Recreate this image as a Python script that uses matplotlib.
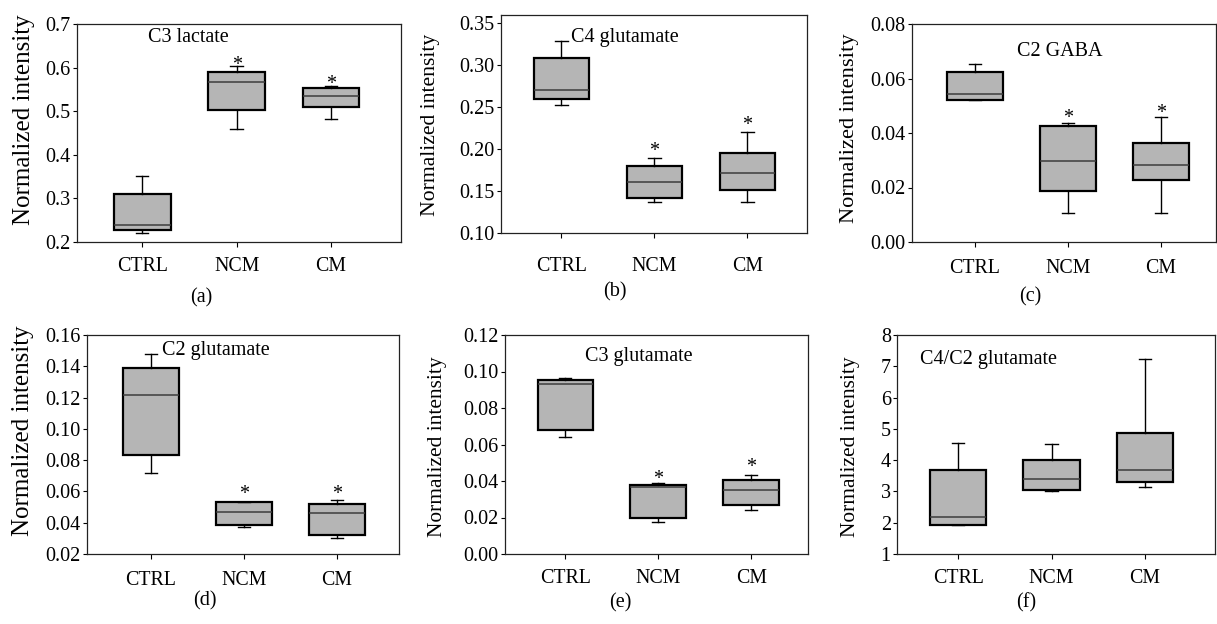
import numpy as np
import matplotlib.pyplot as plt
from matplotlib.ticker import FormatStrFormatter

plt.rcParams['font.family'] = ['Liberation Serif', 'DejaVu Serif']

groups = ['CTRL', 'NCM', 'CM']

# per group: lower whisker, Q1, median, Q3, upper whisker
c3_lactate = [[0.220, 0.228, 0.238, 0.310, 0.352],
              [0.460, 0.502, 0.567, 0.589, 0.604],
              [0.482, 0.509, 0.535, 0.554, 0.558]]
c4_glutamate = [[0.253, 0.260, 0.271, 0.309, 0.329],
                [0.137, 0.142, 0.161, 0.180, 0.190],
                [0.137, 0.151, 0.172, 0.195, 0.220]]
c2_gaba = [[0.0520, 0.0522, 0.0543, 0.0625, 0.0655],
           [0.0107, 0.0187, 0.0298, 0.0425, 0.0437],
           [0.0107, 0.0229, 0.0281, 0.0365, 0.0459]]
c2_glutamate = [[0.0716, 0.0835, 0.1219, 0.1391, 0.1476],
                [0.0370, 0.0385, 0.0471, 0.0535, 0.0535],
                [0.0300, 0.0321, 0.0464, 0.0522, 0.0545]]
c3_glutamate = [[0.0641, 0.0678, 0.0932, 0.0953, 0.0966],
                [0.0177, 0.0199, 0.0367, 0.0380, 0.0387],
                [0.0239, 0.0268, 0.0351, 0.0407, 0.0435]]
c4c2_glutamate = [[1.94, 1.94, 2.17, 3.69, 4.56],
                  [3.01, 3.05, 3.41, 4.01, 4.52],
                  [3.13, 3.30, 3.67, 4.88, 7.23]]

# asterisk heights (NCM, CM); None = no mark
stars_a = [None, 0.621, 0.577]
stars_b = [None, 0.2047, 0.2366]
stars_c = [None, 0.0478, 0.0494]
stars_d = [None, 0.0624, 0.0620]
stars_e = [None, 0.0442, 0.0511]
stars_f = [None, None, None]

yticks_a = [0.2, 0.3, 0.4, 0.5, 0.6, 0.7]
yticks_b = [0.10, 0.15, 0.20, 0.25, 0.30, 0.35]
yticks_c = [0.00, 0.02, 0.04, 0.06, 0.08]
yticks_d = [0.02, 0.04, 0.06, 0.08, 0.10, 0.12, 0.14, 0.16]
yticks_e = [0.00, 0.02, 0.04, 0.06, 0.08, 0.10, 0.12]
yticks_f = [1, 2, 3, 4, 5, 6, 7, 8]

W, H = 1217, 624

panels = [
    # data, stars, yticks, fmt, ylim, xlim, title, title pos, axes px (l, r, t, b), panel tag, tag px, ylabel size/pos, xpad
    dict(d=c3_lactate, s=stars_a, yt=yticks_a, fmt='%.1f', yl=(0.2, 0.7), xl=(0.31, 3.74),
         name='C3 lactate', npos=(0.219, 0.94), box=(77, 401, 24, 242), tag='(a)', tpos=(201, 298),
         ylsize=18, ylpos=(-0.164, 0.56), xpad=7),
    dict(d=c4_glutamate, s=stars_b, yt=yticks_b, fmt='%.2f', yl=(0.10, 0.36), xl=(0.35, 3.64),
         name='C4 glutamate', npos=(0.229, 0.899), box=(501, 807, 15, 233), tag='(b)', tpos=(615, 292),
         ylsize=15.6, ylpos=(-0.229, 0.497), xpad=14),
    dict(d=c2_gaba, s=stars_c, yt=yticks_c, fmt='%.2f', yl=(0.0, 0.08), xl=(0.326, 3.59),
         name='C2 GABA', npos=(0.345, 0.872), box=(912, 1216, 24, 242), tag='(c)', tpos=(1030, 297),
         ylsize=16.2, ylpos=(-0.207, 0.523), xpad=9),
    dict(d=c2_glutamate, s=stars_d, yt=yticks_d, fmt='%.2f', yl=(0.02, 0.16), xl=(0.317, 3.665),
         name='C2 glutamate', npos=(0.24, 0.927), box=(87, 399, 335, 554), tag='(d)', tpos=(205, 601),
         ylsize=18, ylpos=(-0.205, 0.562), xpad=9),
    dict(d=c3_glutamate, s=stars_e, yt=yticks_e, fmt='%.2f', yl=(0.0, 0.12), xl=(0.35, 3.61),
         name='C3 glutamate', npos=(0.264, 0.904), box=(505, 808, 335, 554), tag='(e)', tpos=(620, 603),
         ylsize=15.4, ylpos=(-0.224, 0.489), xpad=7),
    dict(d=c4c2_glutamate, s=stars_f, yt=yticks_f, fmt='%d', yl=(1, 8), xl=(0.346, 3.75),
         name='C4/C2 glutamate', npos=(0.072, 0.89), box=(897, 1215, 335, 554), tag='(f)', tpos=(1026, 603),
         ylsize=15.4, ylpos=(-0.145, 0.489), xpad=7),
]

fig = plt.figure(figsize=(W / 100, H / 100), dpi=100)
pos = [1, 2, 3]

for p in panels:
    l, r, t, b = p['box']
    ax = fig.add_axes([l / W, 1 - b / H, (r - l) / W, (b - t) / H])
    stats = [dict(whislo=v[0], q1=v[1], med=v[2], q3=v[3], whishi=v[4], fliers=[]) for v in p['d']]
    ax.bxp(stats, positions=pos, widths=0.6, capwidths=0.13, patch_artist=True, showfliers=False,
           boxprops=dict(facecolor='#b5b5b5', edgecolor='black', linewidth=1.6),
           medianprops=dict(color='#3c3c3c', linewidth=1.1),
           whiskerprops=dict(color='black', linewidth=1.0),
           capprops=dict(color='black', linewidth=1.0))
    for x, y in zip(pos, p['s']):
        if y is not None:
            ax.annotate('*', (x, y), xytext=(0, -8), textcoords='offset points',
                        ha='center', va='baseline', fontsize=14.5)
    ax.set_xlim(*p['xl'])
    ax.set_ylim(*p['yl'])
    ax.set_xticks(pos)
    ax.set_xticklabels(groups)
    ax.set_yticks(p['yt'])
    ax.yaxis.set_major_formatter(FormatStrFormatter(p['fmt']))
    ax.tick_params(axis='y', direction='out', length=3, width=0.8, pad=1.5, labelsize=14.5)
    ax.tick_params(axis='x', direction='out', length=3.5, width=0.8, pad=p['xpad'], labelsize=14.3)
    for sp in ax.spines.values():
        sp.set_linewidth(0.9)
        sp.set_color('#222222')
    ax.text(p['npos'][0], p['npos'][1], p['name'], transform=ax.transAxes,
            ha='left', va='center', fontsize=14.5)
    ax.text(p['ylpos'][0], p['ylpos'][1], 'Normalized intensity', transform=ax.transAxes,
            rotation=90, ha='center', va='center', fontsize=p['ylsize'])
    fig.text(p['tpos'][0] / W, 1 - p['tpos'][1] / H, p['tag'], ha='center', va='center', fontsize=14.5)

fig.savefig('out.png', dpi=100, facecolor='white')
